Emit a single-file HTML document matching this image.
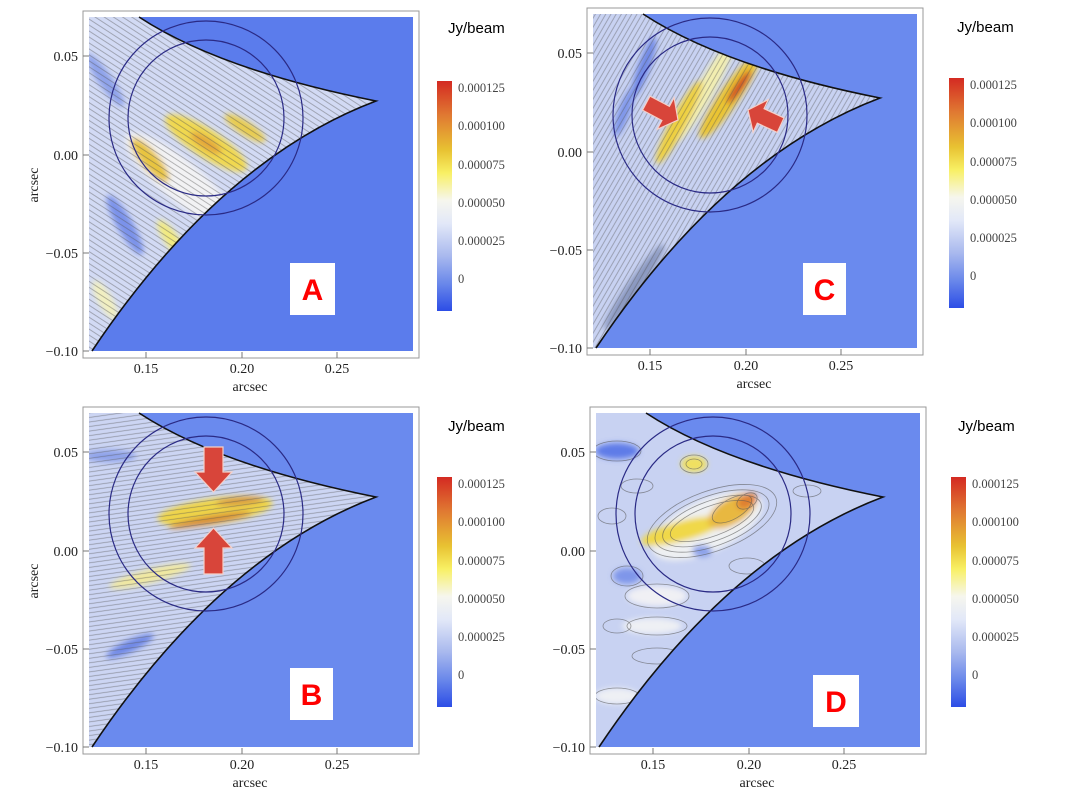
<!DOCTYPE html>
<html><head><meta charset="utf-8"><style>
html,body{margin:0;padding:0;background:#fff;width:1068px;height:798px;overflow:hidden}
svg{position:absolute;left:0;top:0}
.t{font-family:"Liberation Serif",serif;font-size:14px;fill:#222}
.j{font-family:"Liberation Sans",sans-serif;font-size:15px;fill:#000}
.c{font-family:"Liberation Serif",serif;font-size:12.5px;fill:#444}
.L{font-family:"Liberation Sans",sans-serif;font-size:30px;font-weight:bold;fill:#f00}
</style></head><body>
<svg width="1068" height="798" viewBox="0 0 1068 798">
<defs>
<clipPath id="reg"><path d="M89,17 L139,17 Q220,70 376,101 Q220,160 92,351 L89,351 Z"/></clipPath>
<linearGradient id="cb" x1="0" y1="0" x2="0" y2="1">
<stop offset="0" stop-color="#d42a22"/><stop offset="0.15" stop-color="#e07a32"/><stop offset="0.3" stop-color="#e8c232"/><stop offset="0.4" stop-color="#f8f064"/><stop offset="0.52" stop-color="#f6f6ee"/><stop offset="0.62" stop-color="#e2e8f8"/><stop offset="0.76" stop-color="#a9b9ee"/><stop offset="0.88" stop-color="#6a88ea"/><stop offset="1" stop-color="#2c4de6"/></linearGradient>
<filter id="bl" x="-50%" y="-50%" width="200%" height="200%"><feGaussianBlur stdDeviation="3"/></filter>
<pattern id="pA" width="6" height="5" patternUnits="userSpaceOnUse" patternTransform="rotate(33)"><line x1="0" y1="2.5" x2="6" y2="2.5" stroke="#555" stroke-width="0.8" opacity="0.5"/></pattern>
<pattern id="pB" width="6" height="4.5" patternUnits="userSpaceOnUse" patternTransform="rotate(-8)"><line x1="0" y1="2.2" x2="6" y2="2.2" stroke="#555" stroke-width="0.8" opacity="0.5"/></pattern>
<pattern id="pC" width="6" height="4.5" patternUnits="userSpaceOnUse" patternTransform="rotate(-60)"><line x1="0" y1="2.2" x2="6" y2="2.2" stroke="#555" stroke-width="0.8" opacity="0.5"/></pattern>
<g id="frame">
<rect x="83" y="11" width="336" height="347" fill="#fff" stroke="#999" stroke-width="1"/>
<g stroke="#777" stroke-width="1">
<line x1="83" y1="56" x2="89" y2="56"/><line x1="83" y1="155" x2="89" y2="155"/><line x1="83" y1="253" x2="89" y2="253"/><line x1="83" y1="351" x2="89" y2="351"/>
<line x1="146" y1="358" x2="146" y2="352"/><line x1="242" y1="358" x2="242" y2="352"/><line x1="337" y1="358" x2="337" y2="352"/>
</g>
</g>
</defs>

<!-- Panel A -->
<g transform="translate(0,0)">
<use href="#frame"/>
<rect x="89" y="17" width="324" height="334" fill="#5b7cec"/>
<g clip-path="url(#reg)">
<rect x="89" y="17" width="300" height="334" fill="#d2daf4"/>
<g filter="url(#bl)">
<ellipse cx="180" cy="180" rx="70" ry="20" fill="#f2f2f4" transform="rotate(40 180 180)"/>
<ellipse cx="206" cy="143" rx="48" ry="14" fill="#f0d850" transform="rotate(33 206 143)"/>
<ellipse cx="206" cy="143" rx="18" ry="6" fill="#e4a83a" transform="rotate(33 206 143)"/>
<ellipse cx="150" cy="160" rx="28" ry="9" fill="#e8c440" transform="rotate(50 150 160)"/>
<ellipse cx="245" cy="128" rx="24" ry="7" fill="#e8cc50" transform="rotate(33 245 128)"/>
<ellipse cx="172" cy="240" rx="24" ry="7" fill="#f2ea80" transform="rotate(55 172 240)"/>
<ellipse cx="125" cy="225" rx="34" ry="8" fill="#7a92ea" transform="rotate(60 125 225)"/>
<ellipse cx="105" cy="80" rx="32" ry="7" fill="#8ea2ea" transform="rotate(55 105 80)"/>
<ellipse cx="105" cy="300" rx="22" ry="7" fill="#f2f0c0" transform="rotate(60 105 300)"/>
</g>
<rect x="89" y="17" width="300" height="334" fill="url(#pA)"/>
</g>
<path d="M139,17 Q220,70 376,101 Q220,160 92,351" fill="none" stroke="#111" stroke-width="1.6"/>
<circle cx="206" cy="118" r="97" fill="none" stroke="#2a2a85" stroke-width="1.2"/>
<circle cx="206" cy="118" r="78" fill="none" stroke="#2a2a85" stroke-width="1.2"/>
<rect x="290" y="263" width="45" height="52" fill="#fff"/>
<text class="L" x="312.5" y="300" text-anchor="middle">A</text>
<text class="t" x="78" y="61" text-anchor="end">0.05</text><text class="t" x="78" y="160" text-anchor="end">0.00</text><text class="t" x="78" y="258" text-anchor="end">−0.05</text><text class="t" x="78" y="356" text-anchor="end">−0.10</text>
<text class="t" x="146" y="373" text-anchor="middle">0.15</text><text class="t" x="242" y="373" text-anchor="middle">0.20</text><text class="t" x="337" y="373" text-anchor="middle">0.25</text>
<text class="t" x="250" y="391" text-anchor="middle">arcsec</text>
<text class="t" transform="translate(38,185) rotate(-90)" text-anchor="middle">arcsec</text>
<rect x="437" y="81" width="15" height="230" fill="url(#cb)"/>
<g class="c"><text x="458" y="92">0.000125</text><text x="458" y="130">0.000100</text><text x="458" y="169">0.000075</text><text x="458" y="207">0.000050</text><text x="458" y="245">0.000025</text><text x="458" y="283">0</text></g>
<text class="j" x="448" y="33">Jy/beam</text>
</g>

<!-- Panel B -->
<g transform="translate(0,396)">
<use href="#frame"/>
<rect x="89" y="17" width="324" height="334" fill="#6a8aee"/>
<g clip-path="url(#reg)">
<rect x="89" y="17" width="300" height="334" fill="#ccd5f3"/>
<g filter="url(#bl)">
<ellipse cx="215" cy="115" rx="58" ry="13" fill="#eed44a" transform="rotate(-8 215 115)"/>
<ellipse cx="210" cy="124" rx="42" ry="4" fill="#d88a30" transform="rotate(-10 210 124)"/>
<ellipse cx="240" cy="105" rx="24" ry="4" fill="#d89a40" transform="rotate(-5 240 105)"/>
<ellipse cx="150" cy="180" rx="42" ry="7" fill="#f0e8a0" transform="rotate(-15 150 180)"/>
<ellipse cx="130" cy="250" rx="26" ry="6" fill="#6f88e6" transform="rotate(-25 130 250)"/>
<ellipse cx="110" cy="60" rx="26" ry="6" fill="#8ea2ea"/>
</g>
<rect x="89" y="17" width="300" height="334" fill="url(#pB)"/>
</g>
<path d="M139,17 Q220,70 376,101 Q220,160 92,351" fill="none" stroke="#111" stroke-width="1.6"/>
<circle cx="206" cy="118" r="97" fill="none" stroke="#2a2a85" stroke-width="1.2"/>
<circle cx="206" cy="118" r="78" fill="none" stroke="#2a2a85" stroke-width="1.2"/>
<polygon points="204,51 223,51 223,76 232,76 213.5,96 195,76 204,76" fill="#d8453a" stroke="#f4d0c8" stroke-width="1.2"/>
<polygon points="204,178 223,178 223,152 232,152 213.5,132 195,152 204,152" fill="#d8453a" stroke="#f4d0c8" stroke-width="1.2"/>
<rect x="290" y="272" width="43" height="52" fill="#fff"/>
<text class="L" x="311.5" y="309" text-anchor="middle">B</text>
<text class="t" x="78" y="61" text-anchor="end">0.05</text><text class="t" x="78" y="160" text-anchor="end">0.00</text><text class="t" x="78" y="258" text-anchor="end">−0.05</text><text class="t" x="78" y="356" text-anchor="end">−0.10</text>
<text class="t" x="146" y="373" text-anchor="middle">0.15</text><text class="t" x="242" y="373" text-anchor="middle">0.20</text><text class="t" x="337" y="373" text-anchor="middle">0.25</text>
<text class="t" x="250" y="391" text-anchor="middle">arcsec</text>
<text class="t" transform="translate(38,185) rotate(-90)" text-anchor="middle">arcsec</text>
<rect x="437" y="81" width="15" height="230" fill="url(#cb)"/>
<g class="c"><text x="458" y="92">0.000125</text><text x="458" y="130">0.000100</text><text x="458" y="169">0.000075</text><text x="458" y="207">0.000050</text><text x="458" y="245">0.000025</text><text x="458" y="283">0</text></g>
<text class="j" x="448" y="35">Jy/beam</text>
</g>

<!-- Panel C -->
<g transform="translate(504,-3)">
<use href="#frame"/>
<rect x="89" y="17" width="324" height="334" fill="#6a8aee"/>
<g clip-path="url(#reg)">
<rect x="89" y="17" width="300" height="334" fill="#c8d2f2"/>
<g filter="url(#bl)">
<ellipse cx="200" cy="95" rx="58" ry="9" fill="#f2eeb0" transform="rotate(-60 200 95)"/>
<ellipse cx="225" cy="100" rx="50" ry="10" fill="#eac432" transform="rotate(-55 225 100)"/>
<ellipse cx="235" cy="90" rx="20" ry="4" fill="#d03a22" transform="rotate(-55 235 90)"/>
<ellipse cx="175" cy="125" rx="47" ry="8" fill="#eed040" transform="rotate(-62 175 125)"/>
<ellipse cx="140" cy="70" rx="32" ry="6" fill="#6f88e6" transform="rotate(-70 140 70)"/>
<ellipse cx="120" cy="115" rx="26" ry="6" fill="#7f96ea" transform="rotate(-70 120 115)"/>
<ellipse cx="130" cy="290" rx="52" ry="7" fill="#8a98c0" transform="rotate(-55 130 290)"/>
</g>
<rect x="89" y="17" width="300" height="334" fill="url(#pC)"/>
</g>
<path d="M139,17 Q220,70 376,101 Q220,160 92,351" fill="none" stroke="#111" stroke-width="1.6"/>
<circle cx="206" cy="118" r="97" fill="none" stroke="#2a2a85" stroke-width="1.2"/>
<circle cx="206" cy="118" r="78" fill="none" stroke="#2a2a85" stroke-width="1.2"/>
<g transform="translate(174,123) rotate(28)"><polygon points="-36,-8 -14,-8 -14,-18 0,0 -14,18 -14,8 -36,8" fill="#d8453a" stroke="#f4d0c8" stroke-width="1.2"/></g>
<g transform="translate(244,113) rotate(205)"><polygon points="-36,-8 -14,-8 -14,-18 0,0 -14,18 -14,8 -36,8" fill="#d8453a" stroke="#f4d0c8" stroke-width="1.2"/></g>
<rect x="299" y="266" width="43" height="52" fill="#fff"/>
<text class="L" x="320.5" y="303" text-anchor="middle">C</text>
<text class="t" x="78" y="61" text-anchor="end">0.05</text><text class="t" x="78" y="160" text-anchor="end">0.00</text><text class="t" x="78" y="258" text-anchor="end">−0.05</text><text class="t" x="78" y="356" text-anchor="end">−0.10</text>
<text class="t" x="146" y="373" text-anchor="middle">0.15</text><text class="t" x="242" y="373" text-anchor="middle">0.20</text><text class="t" x="337" y="373" text-anchor="middle">0.25</text>
<text class="t" x="250" y="391" text-anchor="middle">arcsec</text>
<rect x="445" y="81" width="15" height="230" fill="url(#cb)"/>
<g class="c"><text x="466" y="92">0.000125</text><text x="466" y="130">0.000100</text><text x="466" y="169">0.000075</text><text x="466" y="207">0.000050</text><text x="466" y="245">0.000025</text><text x="466" y="283">0</text></g>
<text class="j" x="453" y="35">Jy/beam</text>
</g>

<!-- Panel D -->
<g transform="translate(507,396)">
<use href="#frame"/>
<rect x="89" y="17" width="324" height="334" fill="#6a8aee"/>
<g clip-path="url(#reg)">
<rect x="89" y="17" width="300" height="334" fill="#c8d2f2"/>
<g filter="url(#bl)">
<ellipse cx="200" cy="130" rx="60" ry="26" fill="#eef0f2" transform="rotate(-25 200 130)"/>
<ellipse cx="175" cy="135" rx="42" ry="10" fill="#f0d848" transform="rotate(-15 175 135)"/>
<ellipse cx="225" cy="115" rx="27" ry="13" fill="#e8b840" transform="rotate(-30 225 115)"/>
<ellipse cx="240" cy="105" rx="11" ry="7" fill="#e08030" transform="rotate(-30 240 105)"/>
<ellipse cx="187" cy="68" rx="13" ry="8" fill="#f0e060"/>
<ellipse cx="110" cy="55" rx="22" ry="8" fill="#5f7ce8"/>
<ellipse cx="150" cy="200" rx="30" ry="10" fill="#f0f0f4"/>
<ellipse cx="120" cy="180" rx="14" ry="8" fill="#7f96ea"/>
<ellipse cx="145" cy="230" rx="30" ry="8" fill="#eef0f4"/>
<ellipse cx="110" cy="300" rx="22" ry="8" fill="#eef0f4"/>
<ellipse cx="195" cy="155" rx="10" ry="6" fill="#8aa0ea"/>
</g>
<g fill="none" stroke="#555" stroke-width="0.8" opacity="0.6">
<ellipse cx="205" cy="125" rx="68" ry="30" transform="rotate(-20 205 125)"/>
<ellipse cx="205" cy="125" rx="60" ry="25" transform="rotate(-20 205 125)"/>
<ellipse cx="205" cy="125" rx="52" ry="20" transform="rotate(-20 205 125)"/>
<ellipse cx="205" cy="125" rx="44" ry="15" transform="rotate(-20 205 125)"/>
<ellipse cx="225" cy="113" rx="22" ry="10" transform="rotate(-30 225 113)"/>
<ellipse cx="240" cy="105" rx="11" ry="7" transform="rotate(-30 240 105)"/>
<ellipse cx="187" cy="68" rx="14" ry="9"/><ellipse cx="187" cy="68" rx="8" ry="5"/>
<ellipse cx="110" cy="55" rx="24" ry="10"/><ellipse cx="120" cy="180" rx="16" ry="10"/>
<ellipse cx="150" cy="230" rx="30" ry="9"/><ellipse cx="110" cy="300" rx="22" ry="8"/>
<ellipse cx="300" cy="95" rx="14" ry="6"/><ellipse cx="150" cy="260" rx="25" ry="8"/>
<ellipse cx="105" cy="120" rx="14" ry="8"/><ellipse cx="130" cy="90" rx="16" ry="7"/>
<ellipse cx="150" cy="200" rx="32" ry="12"/><ellipse cx="240" cy="170" rx="18" ry="8"/>
<ellipse cx="110" cy="230" rx="14" ry="7"/><ellipse cx="260" cy="60" rx="14" ry="7"/>
</g>
</g>
<path d="M139,17 Q220,70 376,101 Q220,160 92,351" fill="none" stroke="#111" stroke-width="1.6"/>
<circle cx="206" cy="118" r="97" fill="none" stroke="#2a2a85" stroke-width="1.2"/>
<circle cx="206" cy="118" r="78" fill="none" stroke="#2a2a85" stroke-width="1.2"/>
<rect x="306" y="279" width="46" height="52" fill="#fff"/>
<text class="L" x="329" y="316" text-anchor="middle">D</text>
<text class="t" x="78" y="61" text-anchor="end">0.05</text><text class="t" x="78" y="160" text-anchor="end">0.00</text><text class="t" x="78" y="258" text-anchor="end">−0.05</text><text class="t" x="78" y="356" text-anchor="end">−0.10</text>
<text class="t" x="146" y="373" text-anchor="middle">0.15</text><text class="t" x="242" y="373" text-anchor="middle">0.20</text><text class="t" x="337" y="373" text-anchor="middle">0.25</text>
<text class="t" x="250" y="391" text-anchor="middle">arcsec</text>
<rect x="444" y="81" width="15" height="230" fill="url(#cb)"/>
<g class="c"><text x="465" y="92">0.000125</text><text x="465" y="130">0.000100</text><text x="465" y="169">0.000075</text><text x="465" y="207">0.000050</text><text x="465" y="245">0.000025</text><text x="465" y="283">0</text></g>
<text class="j" x="451" y="35">Jy/beam</text>
</g>
</svg>
</body></html>
